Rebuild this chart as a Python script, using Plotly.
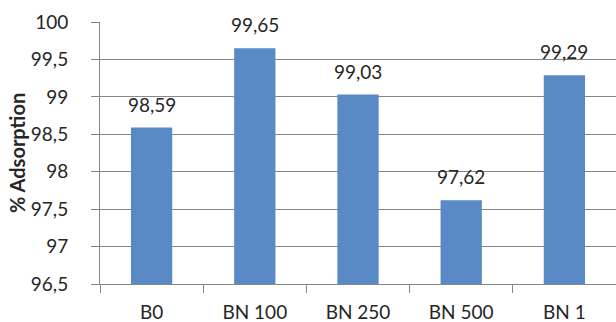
import plotly.graph_objects as go

categories = ["B0", "BN 100", "BN 250", "BN 500", "BN 1"]
values = [98.59, 99.65, 99.03, 97.62, 99.29]
labels = ["98,59", "99,65", "99,03", "97,62", "99,29"]
y_min = 96.5
y_title = "% Adsorption"

font = "Lato, Carlito, Calibri, sans-serif"
txt = "#262626"

fig = go.Figure()
fig.add_trace(go.Bar(
    x=categories, y=[v - y_min for v in values], base=y_min,
    marker=dict(color="#5A8AC6", line=dict(width=0)), width=0.4,
))

for c, v, t in zip(categories, values, labels):
    fig.add_annotation(x=c, y=v, text=t, showarrow=False, yanchor="bottom",
                       yshift=10, font=dict(family=font, size=19, color=txt))

fig.add_annotation(text="<b>" + y_title + "</b>", xref="paper", yref="paper",
                   x=-83 / 516, y=0.5, xanchor="center", yanchor="middle",
                   textangle=-90, showarrow=False,
                   font=dict(family=font, size=20, color=txt))

fig.update_layout(
    width=616, height=322,
    margin=dict(l=100, r=0, t=22, b=38),
    paper_bgcolor="white", plot_bgcolor="white",
    separators=", ",
    showlegend=False,
    font=dict(family=font, size=19, color=txt),
    xaxis=dict(
        showline=True, linecolor="#868686", linewidth=1,
        ticks="outside", tickson="boundaries", ticklen=8, tickcolor="#868686",
        tickfont=dict(family=font, size=19, color=txt),
        ticklabelstandoff=11,
    ),
    yaxis=dict(
        range=[y_min, 100], dtick=0.5, tick0=y_min,
        showline=True, linecolor="#868686", linewidth=1,
        ticks="outside", ticklen=8, tickcolor="#868686",
        showgrid=True, gridcolor="#868686", gridwidth=1,
        zeroline=False,
        tickfont=dict(family=font, size=19, color=txt),
        ticklabelstandoff=19,
    ),
)
fig.write_html("out.html")
